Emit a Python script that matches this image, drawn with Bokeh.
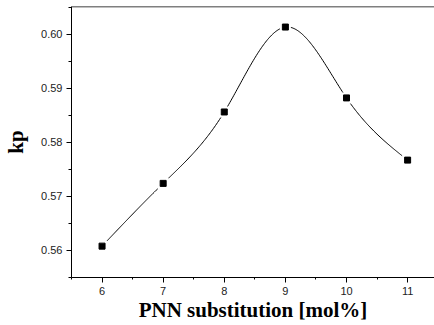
import numpy as np
from bokeh.plotting import figure
from bokeh.models import Range1d, FixedTicker, NumeralTickFormatter, Span
from bokeh.embed import file_html
from bokeh.resources import INLINE

# data
pnn = [6, 7, 8, 9, 10, 11]
kp = [0.5608, 0.5724, 0.5856, 0.6013, 0.5882, 0.5767]
x_ticks = [6, 7, 8, 9, 10, 11]
x_minor = [5.5, 6.5, 7.5, 8.5, 9.5, 10.5, 11.5]
y_ticks = [0.56, 0.57, 0.58, 0.59, 0.60]
y_minor = [0.555, 0.565, 0.575, 0.585, 0.595, 0.605]
x_title = "PNN substitution [mol%]"
y_title = "kp"


def natural_spline(xs, ys, n=300):
    xs = np.asarray(xs, float)
    ys = np.asarray(ys, float)
    m = len(xs)
    h = np.diff(xs)
    A = np.zeros((m, m))
    b = np.zeros(m)
    A[0, 0] = 1
    A[-1, -1] = 1
    for i in range(1, m - 1):
        A[i, i - 1] = h[i - 1]
        A[i, i] = 2 * (h[i - 1] + h[i])
        A[i, i + 1] = h[i]
        b[i] = 6 * ((ys[i + 1] - ys[i]) / h[i] - (ys[i] - ys[i - 1]) / h[i - 1])
    M = np.linalg.solve(A, b)
    xx = np.linspace(xs[0], xs[-1], n)
    yy = np.empty_like(xx)
    for k, x in enumerate(xx):
        i = min(np.searchsorted(xs, x, side="right") - 1, m - 2)
        t0 = xs[i + 1] - x
        t1 = x - xs[i]
        yy[k] = (M[i] * t0 ** 3 / (6 * h[i]) + M[i + 1] * t1 ** 3 / (6 * h[i])
                 + (ys[i] / h[i] - M[i] * h[i] / 6) * t0
                 + (ys[i + 1] / h[i] - M[i + 1] * h[i] / 6) * t1)
    return xx, yy


y_bot, y_top = 0.555, 0.6051
x_lo, x_hi = 5.5, 11.44
p = figure(width=434, height=325, output_backend="svg", toolbar_location=None,
           x_range=Range1d(x_lo, x_hi), y_range=Range1d(y_bot, y_top),
           min_border_left=71, min_border_right=0, min_border_top=6,
           min_border_bottom=48, x_axis_label=x_title, y_axis_label=y_title)
p.grid.visible = False
p.outline_line_color = None
p.background_fill_color = "white"
p.border_fill_color = "white"

xs, ys = natural_spline(pnn, kp)
p.line(xs, ys, line_color="black", line_width=1)
p.scatter(pnn, kp, marker="square", size=11, fill_color="white", line_color=None)
p.scatter(pnn, kp, marker="square", size=6, fill_color="black", line_color="black")

# top border line
p.add_layout(Span(location=y_top, dimension="width", line_color="black", line_width=1.5))

for ax in (p.xaxis[0], p.yaxis[0]):
    ax.axis_line_color = "black"
    ax.axis_line_width = 1
    ax.major_tick_line_color = "black"
    ax.minor_tick_line_color = "black"
    ax.major_tick_in = 0
    ax.minor_tick_in = 0
    ax.major_label_text_font = "Liberation Sans"
    ax.major_label_text_font_size = "11px"
    ax.major_label_text_color = "#222222"
    ax.axis_label_text_font = "Liberation Serif"
    ax.axis_label_text_font_style = "bold"
    ax.axis_label_text_font_size = "21px"
    ax.axis_label_text_color = "black"

p.xaxis[0].ticker = FixedTicker(ticks=x_ticks, minor_ticks=x_minor)
p.xaxis[0].major_tick_out = 5
p.xaxis[0].minor_tick_out = 2
p.xaxis[0].major_label_standoff = 4
p.xaxis[0].axis_label_standoff = 0

p.yaxis[0].ticker = FixedTicker(ticks=y_ticks, minor_ticks=y_minor)
p.yaxis[0].formatter = NumeralTickFormatter(format="0.00")
p.yaxis[0].major_tick_out = 5
p.yaxis[0].minor_tick_out = 3
p.yaxis[0].major_label_standoff = 4
p.yaxis[0].axis_label_standoff = 10

open("out.html", "w").write(file_html(p, INLINE))
